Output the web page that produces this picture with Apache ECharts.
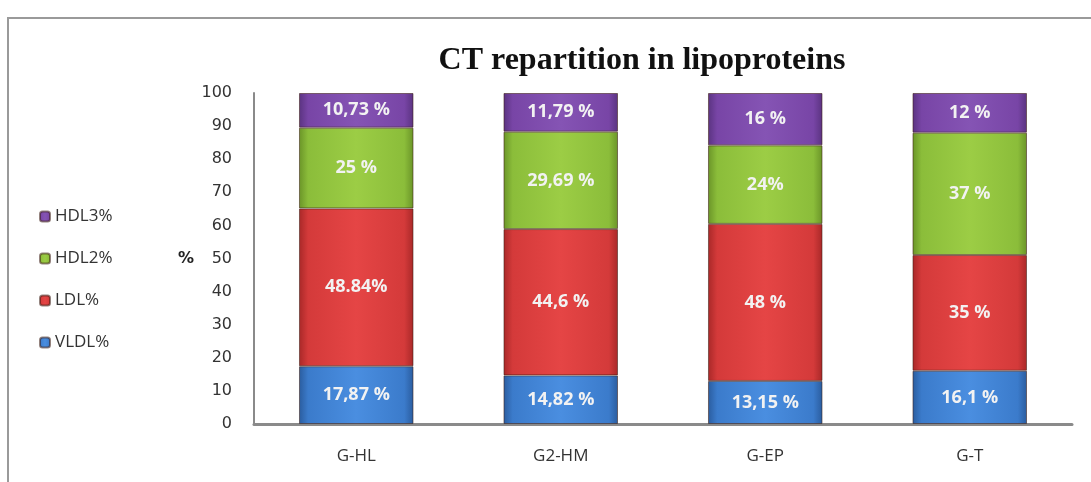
<!DOCTYPE html>
<html>
<head>
<meta charset="utf-8">
<script src="https://cdn.jsdelivr.net/npm/echarts@6/dist/echarts.min.js"></script>
<style>
  html, body { margin: 0; padding: 0; background: #fff; }
  #chart { width: 1091px; height: 482px; }
</style>
</head>
<body>
<div id="chart"></div>
<script>
// categories and raw values (percent of CT)
let groups = ['G-HL', 'G2-HM', 'G-EP', 'G-T']
let vldl = [17.87, 14.82, 13.15, 16.1]
let ldl = [48.84, 44.6, 48, 35]
let hdl2 = [25, 29.69, 24, 37]
let hdl3 = [10.73, 11.79, 16, 12]

// labels as printed on the bars
let vldl_txt = ['17,87 %', '14,82 %', '13,15 %', '16,1 %']
let ldl_txt = ['48.84%', '44,6 %', '48 %', '35 %']
let hdl2_txt = ['25 %', '29,69 %', '24%', '37 %']
let hdl3_txt = ['10,73 %', '11,79 %', '16 %', '12 %']

let y_ticks = [0, 10, 20, 30, 40, 50, 60, 70, 80, 90, 100]

// 100% stacked: each column is scaled to its own total
let totals = groups.map((g, i) => vldl[i] + ldl[i] + hdl2[i] + hdl3[i])
function share(arr){
    return arr.map((v, i) => v / totals[i] * 100)
}

function grad(light, mid, dark){
    return new echarts.graphic.LinearGradient(0, 0, 1, 0, [
        {offset: 0, color: dark},
        {offset: 0.08, color: mid},
        {offset: 0.5, color: light},
        {offset: 0.92, color: mid},
        {offset: 1, color: dark}
    ])
}

let defs = [
    {name: 'VLDL%', data: vldl, txt: vldl_txt, color: '#3d7fd0', fill: grad('#4a8ee0', '#3b7bcb', '#2a5c9e')},
    {name: 'LDL%', data: ldl, txt: ldl_txt, color: '#d63838', fill: grad('#e54545', '#d43a3a', '#a82828')},
    {name: 'HDL2%', data: hdl2, txt: hdl2_txt, color: '#8cbd3a', fill: grad('#9ccd45', '#8bbd3a', '#6a9428')},
    {name: 'HDL3%', data: hdl3, txt: hdl3_txt, color: '#7a48a8', fill: grad('#8554b4', '#7845a6', '#5a3380')}
]

let series = defs.map(d => ({
    name: d.name,
    type: 'bar',
    stack: 'ct',
    barWidth: '56%',
    data: share(d.data),
    itemStyle: {color: d.fill, borderColor: 'rgba(60,30,20,0.55)', borderWidth: 1},
    label: {
        show: true,
        position: 'inside',
        formatter: p => d.txt[p.dataIndex],
        color: '#f2f2f2',
        fontFamily: 'Open Sans',
        fontWeight: 'bold',
        fontSize: 18
    }
}))

let mychart = echarts.init(document.getElementById('chart'))
mychart.setOption({
    animation: false,
    color: defs.map(d => d.color),
    title: {
        text: 'CT repartition in lipoproteins',
        left: 637,
        top: 40,
        textAlign: 'center',
        textStyle: {fontFamily: 'Liberation Serif', fontWeight: 'bold', fontSize: 32, color: '#111'}
    },
    legend: {
        orient: 'vertical',
        left: 34,
        top: 203,
        itemGap: 25,
        itemWidth: 10,
        itemHeight: 10,
        data: defs.map(d => d.name).reverse(),
        textStyle: {fontFamily: 'Open Sans', fontSize: 17, color: '#333'}
    },
    grid: {left: 254, right: 19, top: 93, bottom: 58},
    xAxis: {
        type: 'category',
        data: groups,
        axisLine: {lineStyle: {color: '#8a8a8a', width: 3}},
        axisTick: {show: false},
        axisLabel: {margin: 24, fontFamily: 'Open Sans', fontSize: 17, color: '#333'}
    },
    yAxis: {
        type: 'value',
        min: 0,
        max: 100,
        interval: 10,
        name: '%',
        nameLocation: 'middle',
        nameRotate: 0,
        nameGap: 60,
        nameTextStyle: {fontFamily: 'DejaVu Sans', fontWeight: 'bold', fontSize: 16, color: '#222'},
        axisLine: {show: true, lineStyle: {color: '#8a8a8a', width: 2}},
        axisTick: {show: false},
        splitLine: {show: false},
        axisLabel: {
            margin: 22,
            fontFamily: 'DejaVu Sans',
            fontSize: 16,
            color: '#333',
            formatter: v => y_ticks.includes(v) ? String(v) : ''
        }
    },
    graphic: [{
        type: 'rect',
        shape: {x: 8, y: 18, width: 1200, height: 600},
        style: {fill: null, stroke: '#9a9a9a', lineWidth: 2},
        silent: true,
        z: -1
    }],
    series: series
})
</script>
</body>
</html>
